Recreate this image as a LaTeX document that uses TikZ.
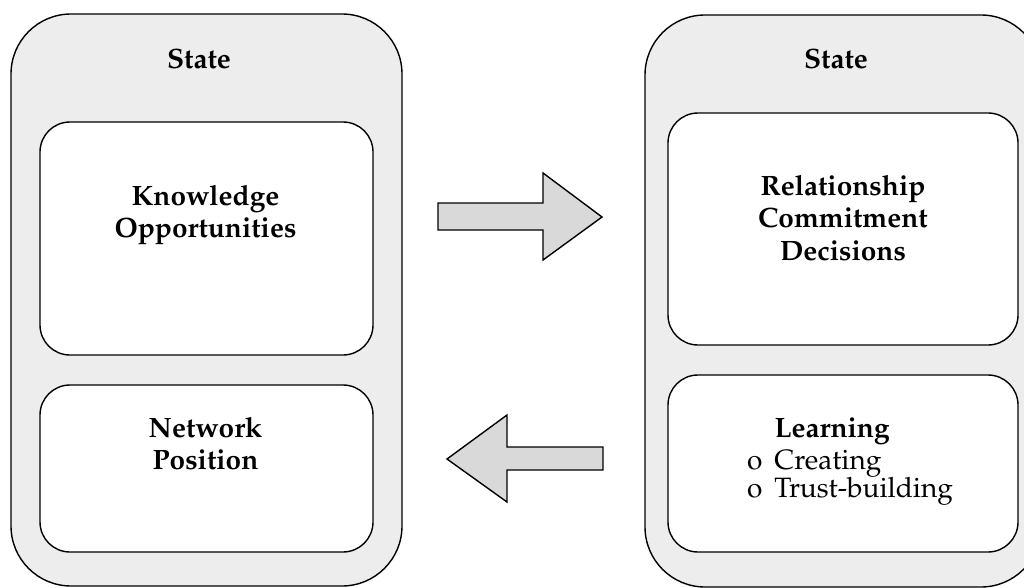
\documentclass[tikz,border=0pt]{standalone}
\usepackage[T1]{fontenc}
\usepackage{mathpazo}
\definecolor{outerfill}{HTML}{EDEDED}
\definecolor{arrowfill}{HTML}{D9D9D9}
\begin{document}
\begin{tikzpicture}[x=1pt,y=-1pt,
  outerbox/.style={draw=black, line width=1.4pt, fill=outerfill, rounded corners=60pt, inner sep=0pt},
  innerbox/.style={draw=black, line width=1.4pt, fill=white, rounded corners=30pt, inner sep=0pt},
  blockarrow/.style={draw=black, line width=1.4pt, fill=arrowfill, line join=miter},
  txt/.style={inner sep=0pt, anchor=base, font=\fontsize{28}{32.5}\selectfont}
]
\clip (0,0) rectangle (1024,588);
\fill[white] (0,0) rectangle (1024,588);

% left state column
\node[outerbox, minimum width=391pt, minimum height=572pt] (lstate) at (206.5,300) {};
\node[innerbox, minimum width=333pt, minimum height=233pt] (know) at (206.5,238.5) {};
\node[innerbox, minimum width=333pt, minimum height=167pt] (net) at (206.5,468.5) {};

% right state column
\node[outerbox, minimum width=396pt, minimum height=572pt] (rstate) at (843,301) {};
\node[innerbox, minimum width=350pt, minimum height=232pt] (rel) at (843,229) {};
\node[innerbox, minimum width=350pt, minimum height=177pt] (learn) at (843,463.5) {};

% titles
\node[txt] (ltitle) at (199,69) {\bfseries State};
\node[txt] (rtitle) at (836,69) {\bfseries State};

% box contents
\node[txt] (knowtxt) at (205.5,205) {\bfseries\begin{tabular}[t]{@{}c@{}}Knowledge\\Opportunities\end{tabular}};
\node[txt] (nettxt) at (205.5,437) {\bfseries\begin{tabular}[t]{@{}c@{}}Network\\Position\end{tabular}};
\node[txt] (reltxt) at (843,195) {\bfseries\begin{tabular}[t]{@{}c@{}}Relationship\\Commitment\\Decisions\end{tabular}};
\node[txt, anchor=base west] (learntxt) at (747,437) {\begin{tabular}[t]{@{}l@{\hspace{12pt}}l@{}}
  & \bfseries Learning\\
  o & Creating\\[-4.5pt]
  o & Trust-building
\end{tabular}};

% block arrows between the columns
\draw[blockarrow] (438,203) -- (543,203) -- (543,173) -- (602,217)
  -- (543,260) -- (543,230) -- (438,230) -- cycle;
\draw[blockarrow] (603,447) -- (507,447) -- (507,415) -- (447,459)
  -- (507,502) -- (507,470) -- (603,470) -- cycle;
\end{tikzpicture}
\end{document}
